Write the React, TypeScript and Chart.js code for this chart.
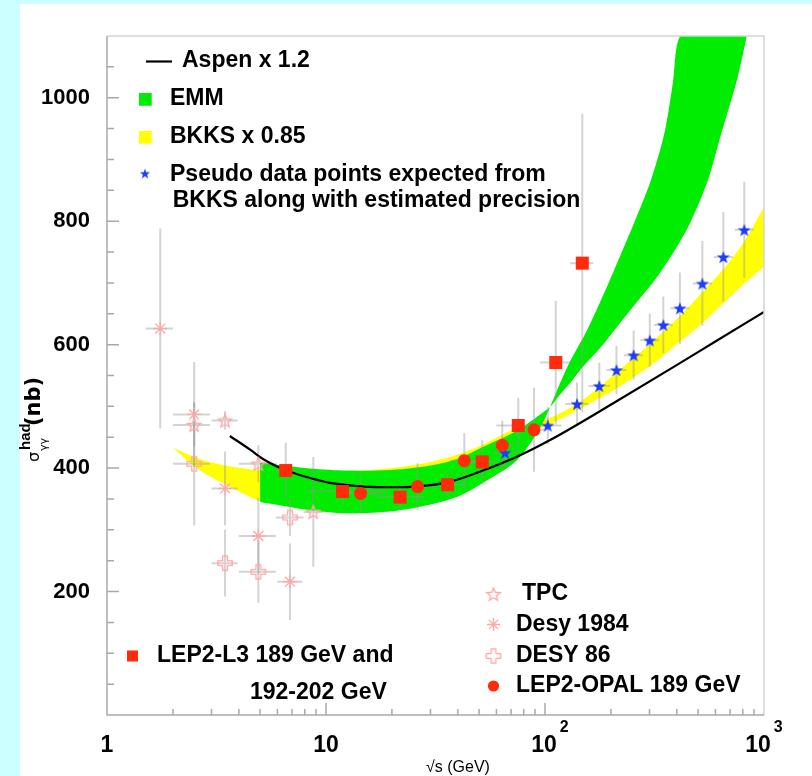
import React, { useEffect, useRef } from 'react';
import { Chart, registerables } from 'chart.js';

Chart.register(...registerables);

// ---------------- data ----------------
const xTickValues = [1, 10, 100, 1000];
const xTickBase = ['1', '10', '10', '10'];
const xTickExp = ['', '', '2', '3'];
const yTickValues = [200, 400, 600, 800, 1000];

// Aspen x 1.2 (black curve)
const aspenX = [3.64, 4.5, 5.2, 6.4, 7.4, 9.1, 10.4, 15, 20, 26, 37, 52, 74, 105, 205, 413, 587, 1000];
const aspenY = [452, 430, 414, 398, 390, 381, 376, 370, 369, 370, 378, 396, 418, 445, 505, 570, 603, 653];

// EMM band (green): two edges crossing near 105 GeV; the steep edge leaves the frame at the top (1100)
const emmAX = [5, 8, 12, 20, 30, 40, 52, 74, 95, 105.4, 117, 133, 148, 180, 209, 260, 318, 390, 464, 555, 630, 753, 834];
const emmAY = [409, 400, 396, 397, 404, 415, 434, 460, 487, 499, 519, 542, 563, 596, 625, 667, 705, 752, 800, 867, 935, 1029, 1099];
const emmBX = [5, 8, 12, 20, 30, 40, 52, 74, 95, 105.4, 119, 128, 156, 198, 262, 305, 352, 384, 413, 500, 834];
const emmBY = [345, 333, 327, 330, 341, 354, 376, 412, 465, 499, 543, 568, 624, 705, 807, 867, 945, 1025, 1099, 1100, 1100];

// BKKS x 0.85 band (yellow)
const bkksX = [2.0, 2.5, 3.0, 3.6, 4.3, 5, 7, 10, 15, 20, 30, 40, 52, 74, 102, 141, 177, 212, 255, 299, 349, 413, 520, 652, 813, 1000];
const bkksTop = [433, 418, 409, 403, 399, 397, 394, 394, 396, 400, 410, 422, 438, 465, 479, 505, 531, 555, 579, 600, 622, 646, 684, 722, 767, 823];
const bkksBottom = [433, 403, 385, 370, 357, 347, 345, 350, 362, 375, 395, 412, 430, 453, 469, 494, 513, 529, 548, 564, 583, 605, 634, 667, 699, 726];

// Pseudo data points (blue stars)
const pseudoX = [65.7, 103, 140, 177, 212, 254, 301, 347, 413, 523, 652, 813];
const pseudoY = [425, 469, 504, 533, 559, 583, 607, 632, 659, 699, 742, 786];
const pseudoErr = [24, 30, 35, 38, 39, 40, 43, 46, 58, 69, 73, 78];
const pseudoXLo = [58, 90, 124, 158, 191, 229, 272, 314, 374, 473, 590, 736];
const pseudoXHi = [74, 119, 158, 198, 235, 280, 332, 383, 456, 578, 720, 898];

// LEP2-L3 (red squares)
const l3X = [6.55, 11.9, 21.8, 35.9, 51.7, 75.5, 112, 148];
const l3Y = [396, 362, 353, 373, 410, 469, 571, 732];
const l3Err = [45, 20, 18, 20, 35, 45, 100, 242];
const l3XLo = [5.8, 8.2, 17, 30, 45, 60, 95, 130];
const l3XHi = [7.4, 19.2, 28, 43, 60, 92, 131, 166];

// LEP2-OPAL (red circles)
const opalX = [14.4, 26.2, 42.8, 63.8, 89.1];
const opalY = [359, 370, 412, 437, 462];
const opalErr = [30, 38, 45, 40, 68];
const opalXLo = [11, 22, 37, 57, 80];
const opalXHi = [18, 31, 50, 72, 100];

// TPC (open stars)
const tpcX = [2.5, 3.46, 4.91, 8.75];
const tpcY = [470, 477, 407, 329];
const tpcErr = [35, 15, 30, 89];
const tpcXLo = [2.0, 3.0, 4.0, 7.9];
const tpcXHi = [2.95, 3.95, 5.95, 9.7];

// Desy 1984 (asterisks)
const desy84X = [1.75, 2.5, 3.46, 4.91, 6.85];
const desy84Y = [626, 487, 367, 290, 216];
const desy84Err = [162, 85, 60, 62, 62];
const desy84XLo = [1.5, 2.0, 3.0, 4.0, 6.0];
const desy84XHi = [2.0, 2.95, 3.95, 5.9, 7.8];

// DESY 86 (open crosses)
const desy86X = [2.5, 3.46, 4.91, 6.85];
const desy86Y = [407, 246, 232, 320];
const desy86Err = [100, 54, 50, 30];
const desy86XLo = [2.0, 3.0, 4.0, 5.9];
const desy86XHi = [2.95, 3.95, 5.9, 7.9];

// ---------------- styling ----------------
const FONT = '"Liberation Sans", Arial, Helvetica, sans-serif';
const GREEN = '#00ec00';
const YELLOW = '#ffff00';
const RED = '#ff2b0b';
const BLUE = '#1d3cff';
const PINK = '#ffa6a6';

function starCanvas(outer: number, inner: number, fill: string | null, stroke: string | null, lw: number) {
  const pad = Math.ceil(lw) + 2;
  let size = Math.ceil(outer * 2 + pad * 2);
  if (size % 2) size += 1;
  const c = document.createElement('canvas');
  c.width = size;
  c.height = size;
  const g = c.getContext('2d')!;
  g.translate(size / 2, size / 2 + outer * 0.1);
  g.beginPath();
  for (let i = 0; i < 10; i++) {
    const r = i % 2 === 0 ? outer : inner;
    const ang = -Math.PI / 2 + (i * Math.PI) / 5;
    const px = r * Math.cos(ang);
    const py = r * Math.sin(ang);
    if (i === 0) g.moveTo(px, py);
    else g.lineTo(px, py);
  }
  g.closePath();
  if (fill) {
    g.fillStyle = fill;
    g.fill();
  }
  if (stroke) {
    g.strokeStyle = stroke;
    g.lineWidth = lw;
    g.stroke();
  }
  return c;
}

function crossCanvas(half: number, arm: number, stroke: string, lw: number) {
  const pad = Math.ceil(lw) + 2;
  let size = Math.ceil(half * 2 + pad * 2);
  if (size % 2) size += 1;
  const c = document.createElement('canvas');
  c.width = size;
  c.height = size;
  const g = c.getContext('2d')!;
  g.translate(size / 2, size / 2);
  const h = half;
  const a = arm;
  g.beginPath();
  g.moveTo(-a, -h);
  g.lineTo(a, -h);
  g.lineTo(a, -a);
  g.lineTo(h, -a);
  g.lineTo(h, a);
  g.lineTo(a, a);
  g.lineTo(a, h);
  g.lineTo(-a, h);
  g.lineTo(-a, a);
  g.lineTo(-h, a);
  g.lineTo(-h, -a);
  g.lineTo(-a, -a);
  g.closePath();
  g.strokeStyle = stroke;
  g.lineWidth = lw;
  g.stroke();
  return c;
}

const mk = (xs: number[], ys: number[], errs: number[], lo: number[], hi: number[]) =>
  xs.map((x, i) => ({ x, y: ys[i], yLo: ys[i] - errs[i], yHi: ys[i] + errs[i], xLo: lo[i], xHi: hi[i] }));

const line = (xs: number[], ys: number[]) => xs.map((x, i) => ({ x, y: ys[i] }));

function text(ctx: CanvasRenderingContext2D, s: string, x: number, y: number, font: string, align: CanvasTextAlign = 'left') {
  ctx.font = font;
  ctx.textAlign = align;
  ctx.textBaseline = 'middle';
  ctx.fillStyle = '#000';
  ctx.fillText(s, x, y);
}

export default function App() {
  const ref = useRef<HTMLCanvasElement | null>(null);

  useEffect(() => {
    document.body.style.margin = '0';
    const canvas = ref.current!;
    const blueStar = starCanvas(6.8, 2.8, BLUE, null, 0);
    const blueStarLegend = starCanvas(5.4, 2.2, BLUE, null, 0);
    const tpcStar = starCanvas(7, 3.0, null, PINK, 1.3);
    const desyCross = crossCanvas(7.2, 2.4, PINK, 1.3);

    const drawErrorBars = (chart: any) => {
      const { ctx, chartArea: a } = chart;
      const xs = chart.scales.x;
      const ys = chart.scales.y;
      ctx.save();
      ctx.beginPath();
      ctx.rect(a.left, a.top, a.right - a.left, a.bottom - a.top);
      ctx.clip();
      ctx.strokeStyle = 'rgba(150,150,150,0.42)';
      ctx.lineWidth = 2;
      chart.data.datasets.forEach((ds: any) => {
        if (!ds.errorBars) return;
        ds.data.forEach((p: any) => {
          const px = xs.getPixelForValue(p.x);
          const py = ys.getPixelForValue(p.y);
          ctx.beginPath();
          ctx.moveTo(px, ys.getPixelForValue(p.yLo));
          ctx.lineTo(px, ys.getPixelForValue(p.yHi));
          ctx.moveTo(xs.getPixelForValue(p.xLo), py);
          ctx.lineTo(xs.getPixelForValue(p.xHi), py);
          ctx.stroke();
        });
      });
      ctx.restore();
    };

    const decor = {
      id: 'decor',
      beforeDraw(chart: any) {
        const ctx = chart.ctx;
        ctx.save();
        ctx.fillStyle = '#ccffff';
        ctx.fillRect(0, 0, chart.width, chart.height);
        ctx.fillStyle = '#ffffff';
        ctx.fillRect(20, 4, chart.width - 20, chart.height - 4);
        ctx.restore();
      },
      afterDatasetDraw(chart: any, args: any) {
        if (chart.data.datasets[args.index].label === 'EMM') drawErrorBars(chart);
      },
      afterDraw(chart: any) {
        const { ctx, chartArea: a } = chart;
        const xs = chart.scales.x;
        const ys = chart.scales.y;
        ctx.save();
        // frame
        ctx.lineWidth = 1.5;
        ctx.strokeStyle = '#d4d4d4';
        ctx.beginPath();
        ctx.moveTo(a.left, a.top);
        ctx.lineTo(a.right, a.top);
        ctx.lineTo(a.right, a.bottom);
        ctx.stroke();
        ctx.strokeStyle = '#a9a9a9';
        ctx.beginPath();
        ctx.moveTo(a.left, a.top);
        ctx.lineTo(a.left, a.bottom);
        ctx.lineTo(a.right, a.bottom);
        // y ticks
        for (let v = 50; v < 1100; v += 50) {
          const py = ys.getPixelForValue(v);
          const len = v % 200 === 0 ? 12 : 7;
          ctx.moveTo(a.left, py);
          ctx.lineTo(a.left + len, py);
        }
        // x ticks
        for (const dec of [1, 10, 100]) {
          for (let m = 1; m <= 9; m++) {
            const px = xs.getPixelForValue(m * dec);
            const len = m === 1 ? 12 : 6;
            ctx.moveTo(px, a.bottom);
            ctx.lineTo(px, a.bottom - len);
          }
        }
        ctx.stroke();

        // tick labels
        const tf = `bold 22px ${FONT}`;
        yTickValues.forEach((v) => text(ctx, String(v), 90, ys.getPixelForValue(v), tf, 'right'));
        const xOff = [0, 0, -1, -6];
        xTickValues.forEach((v, i) => {
          const px = xs.getPixelForValue(v) + xOff[i];
          text(ctx, xTickBase[i], px, 746, `bold 23px ${FONT}`, 'center');
          if (xTickExp[i]) {
            ctx.font = `bold 23px ${FONT}`;
            const w = ctx.measureText(xTickBase[i]).width;
            text(ctx, xTickExp[i], px + w / 2 + 3, 728, `bold 16px ${FONT}`, 'left');
          }
        });

        // axis titles
        text(ctx, '√s (GeV)', 458, 768, `16px ${FONT}`, 'center');
        ctx.save();
        ctx.translate(40, 462);
        ctx.rotate(-Math.PI / 2);
        ctx.textBaseline = 'alphabetic';
        ctx.textAlign = 'left';
        ctx.fillStyle = '#000';
        ctx.font = '16px "DejaVu Sans", sans-serif';
        ctx.fillText('σ', 0, -1);
        ctx.font = `bold 15px ${FONT}`;
        ctx.fillText('had', 12, -10);
        ctx.font = '11px "DejaVu Sans", sans-serif';
        ctx.fillText('γγ', 11, 7);
        ctx.font = 'bold 21px "DejaVu Sans", sans-serif';
        ctx.fillText('(nb)', 36, 0);
        ctx.restore();

        // legend 1
        const lf = `bold 23px ${FONT}`;
        ctx.strokeStyle = '#000';
        ctx.lineWidth = 2.2;
        ctx.beginPath();
        ctx.moveTo(146, 61.5);
        ctx.lineTo(172, 61.5);
        ctx.stroke();
        text(ctx, 'Aspen x 1.2', 182, 61, lf);
        ctx.fillStyle = GREEN;
        ctx.fillRect(139, 93, 12.7, 12.7);
        text(ctx, 'EMM', 170, 99, lf);
        ctx.fillStyle = YELLOW;
        ctx.fillRect(139, 131, 12.7, 12.7);
        text(ctx, 'BKKS x 0.85', 170, 137, lf);
        ctx.drawImage(blueStarLegend, 145 - blueStarLegend.width / 2, 173.5 - blueStarLegend.height / 2);
        text(ctx, 'Pseudo data points expected from', 170, 175, lf);
        text(ctx, 'BKKS along with estimated precision', 172.7, 201, lf);

        // legend 2
        ctx.fillStyle = RED;
        ctx.fillRect(127, 650.5, 11, 11);
        text(ctx, 'LEP2-L3 189 GeV and', 157, 656, lf);
        text(ctx, '192-202 GeV', 250, 693, lf);

        // legend 3
        ctx.drawImage(tpcStar, 493.5 - tpcStar.width / 2, 594 - tpcStar.height / 2);
        text(ctx, 'TPC', 522, 594, lf);
        ctx.strokeStyle = PINK;
        ctx.lineWidth = 1.3;
        ctx.beginPath();
        const r = 6.5;
        const cx = 493.5;
        const cy = 624.5;
        ctx.moveTo(cx - r, cy);
        ctx.lineTo(cx + r, cy);
        ctx.moveTo(cx, cy - r);
        ctx.lineTo(cx, cy + r);
        const d = r * Math.SQRT1_2;
        ctx.moveTo(cx - d, cy - d);
        ctx.lineTo(cx + d, cy + d);
        ctx.moveTo(cx - d, cy + d);
        ctx.lineTo(cx + d, cy - d);
        ctx.stroke();
        text(ctx, 'Desy 1984', 516, 625, lf);
        ctx.drawImage(desyCross, 493.5 - desyCross.width / 2, 656 - desyCross.height / 2);
        text(ctx, 'DESY 86', 516, 656, lf);
        ctx.fillStyle = RED;
        ctx.beginPath();
        ctx.arc(493.5, 686, 5.6, 0, Math.PI * 2);
        ctx.fill();
        text(ctx, 'LEP2-OPAL 189 GeV', 516, 686, lf);
        ctx.restore();
      },
    };

    const band = {
      showLine: true,
      pointRadius: 0,
      borderWidth: 0,
      borderColor: 'rgba(0,0,0,0)',
    };

    const chart = new Chart(canvas, {
      type: 'line',
      data: {
        datasets: [
          { ...band, label: 'BKKS lower', data: line(bkksX, bkksBottom), fill: false, order: 20, cubicInterpolationMode: 'monotone' },
          { ...band, label: 'BKKS x 0.85', data: line(bkksX, bkksTop), fill: '-1', backgroundColor: YELLOW, order: 19, cubicInterpolationMode: 'monotone' },
          { ...band, label: 'EMM edge B', data: line(emmBX, emmBY), fill: false, order: 18, tension: 0.3, capBezierPoints: false },
          { ...band, label: 'EMM', data: line(emmAX, emmAY), fill: '-1', backgroundColor: GREEN, order: 17, tension: 0.3, capBezierPoints: false },
          { label: 'Aspen x 1.2', data: line(aspenX, aspenY), showLine: true, pointRadius: 0, borderColor: '#000', borderWidth: 2.2, fill: false, order: 16, cubicInterpolationMode: 'monotone' },
          { label: 'TPC', errorBars: true, data: mk(tpcX, tpcY, tpcErr, tpcXLo, tpcXHi), showLine: false, pointStyle: tpcStar, pointRadius: 7, order: 6 },
          { label: 'Desy 1984', errorBars: true, data: mk(desy84X, desy84Y, desy84Err, desy84XLo, desy84XHi), showLine: false, pointStyle: 'star', pointRadius: 7, pointBorderColor: PINK, pointBackgroundColor: PINK, pointBorderWidth: 1.3, order: 5 },
          { label: 'DESY 86', errorBars: true, data: mk(desy86X, desy86Y, desy86Err, desy86XLo, desy86XHi), showLine: false, pointStyle: desyCross, pointRadius: 7, order: 4 },
          { label: 'Pseudo data', errorBars: true, data: mk(pseudoX, pseudoY, pseudoErr, pseudoXLo, pseudoXHi), showLine: false, pointStyle: blueStar, pointRadius: 7, order: 3 },
          { label: 'LEP2-L3', errorBars: true, data: mk(l3X, l3Y, l3Err, l3XLo, l3XHi), showLine: false, pointStyle: 'rect', pointRadius: 9.2, pointBackgroundColor: RED, pointBorderColor: RED, pointBorderWidth: 0, order: 2 },
          { label: 'LEP2-OPAL', errorBars: true, data: mk(opalX, opalY, opalErr, opalXLo, opalXHi), showLine: false, pointStyle: 'circle', pointRadius: 6.5, pointBackgroundColor: RED, pointBorderColor: RED, pointBorderWidth: 0, order: 1 },
        ] as any,
      },
      options: {
        responsive: false,
        animation: false,
        events: [],
        layout: { padding: { left: 107, right: 48, top: 36, bottom: 61 } },
        scales: {
          x: { type: 'logarithmic', min: 1, max: 1000, display: false },
          y: { type: 'linear', min: 0, max: 1100, display: false },
        },
        plugins: {
          legend: { display: false },
          tooltip: { enabled: false },
        },
      } as any,
      plugins: [decor],
    });
    return () => chart.destroy();
  }, []);

  return (
    <div style={{ width: 812, height: 776, position: 'relative' }}>
      <canvas ref={ref} width={812} height={776} style={{ display: 'block' }} />
    </div>
  );
}
